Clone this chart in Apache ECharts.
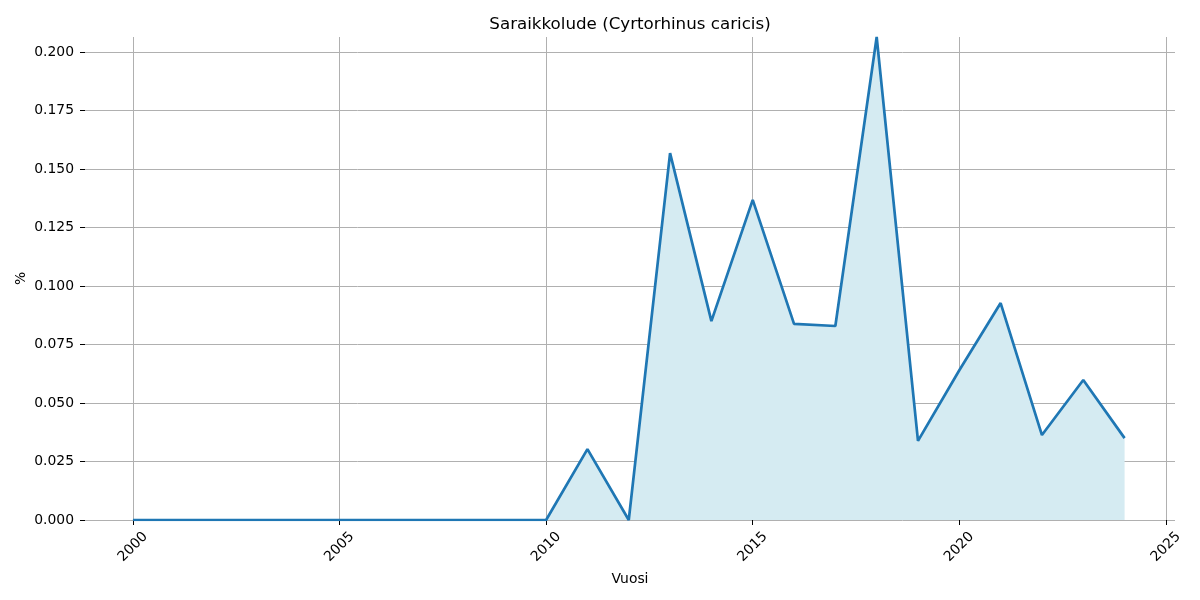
<!DOCTYPE html>
<html>
<head>
<meta charset="utf-8">
<script src="https://cdn.jsdelivr.net/npm/echarts@6/dist/echarts.min.js"></script>
<style>html,body{margin:0;padding:0;background:#fff}#c{width:1200px;height:600px}</style>
</head>
<body>
<div id="c"></div>
<script>
const years = [2000,2001,2002,2003,2004,2005,2006,2007,2008,2009,2010,2011,2012,2013,2014,2015,2016,2017,2018,2019,2020,2021,2022,2023,2024];
const values = [0,0,0,0,0,0,0,0,0,0,0,0.0303,0,0.1568,0.0850,0.1368,0.0838,0.0829,0.2064,0.0338,0.0640,0.0927,0.0363,0.0598,0.0350];
const fillStartYear = 2010;
const xTicks = [2000,2005,2010,2015,2020,2025];
const yTicks = [0,0.025,0.05,0.075,0.1,0.125,0.15,0.175,0.2];
const titleText = 'Saraikkolude (Cyrtorhinus caricis)';
const xName = 'Vuosi';
const yName = '%';

const lineData = years.map((y,i)=>[y, values[i]]);
const areaData = years.filter(y=>y>=fillStartYear).map(y=>[y, values[years.indexOf(y)]]);
const font = 'DejaVu Sans';
const chart = echarts.init(document.getElementById('c'));
chart.setOption({
  animation:false,
  backgroundColor:'#fff',
  title:{text:titleText,left:625,top:11,textAlign:'center',textStyle:{fontFamily:font,fontSize:16.7,fontWeight:'normal',color:'#000'}},
  grid:{left:85,right:25,top:37,bottom:80,containLabel:false},
  xAxis:{type:'value',min:1998.84,max:2025.22,
    name:xName,nameLocation:'middle',nameGap:52,nameMoveOverlap:false,nameTextStyle:{fontFamily:font,fontSize:13.9,color:'#000'},
    axisLine:{show:false},
    axisTick:{show:true,length:5,lineStyle:{color:'#000'},customValues:xTicks},
    axisLabel:{customValues:xTicks,rotate:45,margin:27,align:'center',verticalAlign:'middle',fontFamily:font,fontSize:13.9,color:'#000',formatter:v=>String(v)},
    splitLine:{show:true,showMinLine:true,showMaxLine:true,lineStyle:{color:'#b0b0b0',width:1}}
  },
  yAxis:{type:'value',min:0,max:0.2064,
    name:yName,nameLocation:'middle',nameGap:57,nameMoveOverlap:false,nameTextStyle:{fontFamily:font,fontSize:13.9,color:'#000'},
    axisLine:{show:false},
    axisTick:{show:true,length:5,lineStyle:{color:'#000'},customValues:yTicks},
    axisLabel:{customValues:yTicks,margin:11,fontFamily:font,fontSize:13.9,color:'#000',formatter:v=>v.toFixed(3)},
    splitLine:{show:true,showMinLine:true,showMaxLine:true,lineStyle:{color:'#b0b0b0',width:1}}
  },
  series:[
    {type:'line',data:areaData,symbol:'none',lineStyle:{width:0},areaStyle:{color:'#d5ebf2',opacity:1,origin:'start'},z:1,silent:true,clip:true},
    {type:'line',data:lineData,symbol:'none',lineStyle:{color:'#1f77b4',width:2.7},z:3,clip:true}
  ]
});
</script>
</body>
</html>
